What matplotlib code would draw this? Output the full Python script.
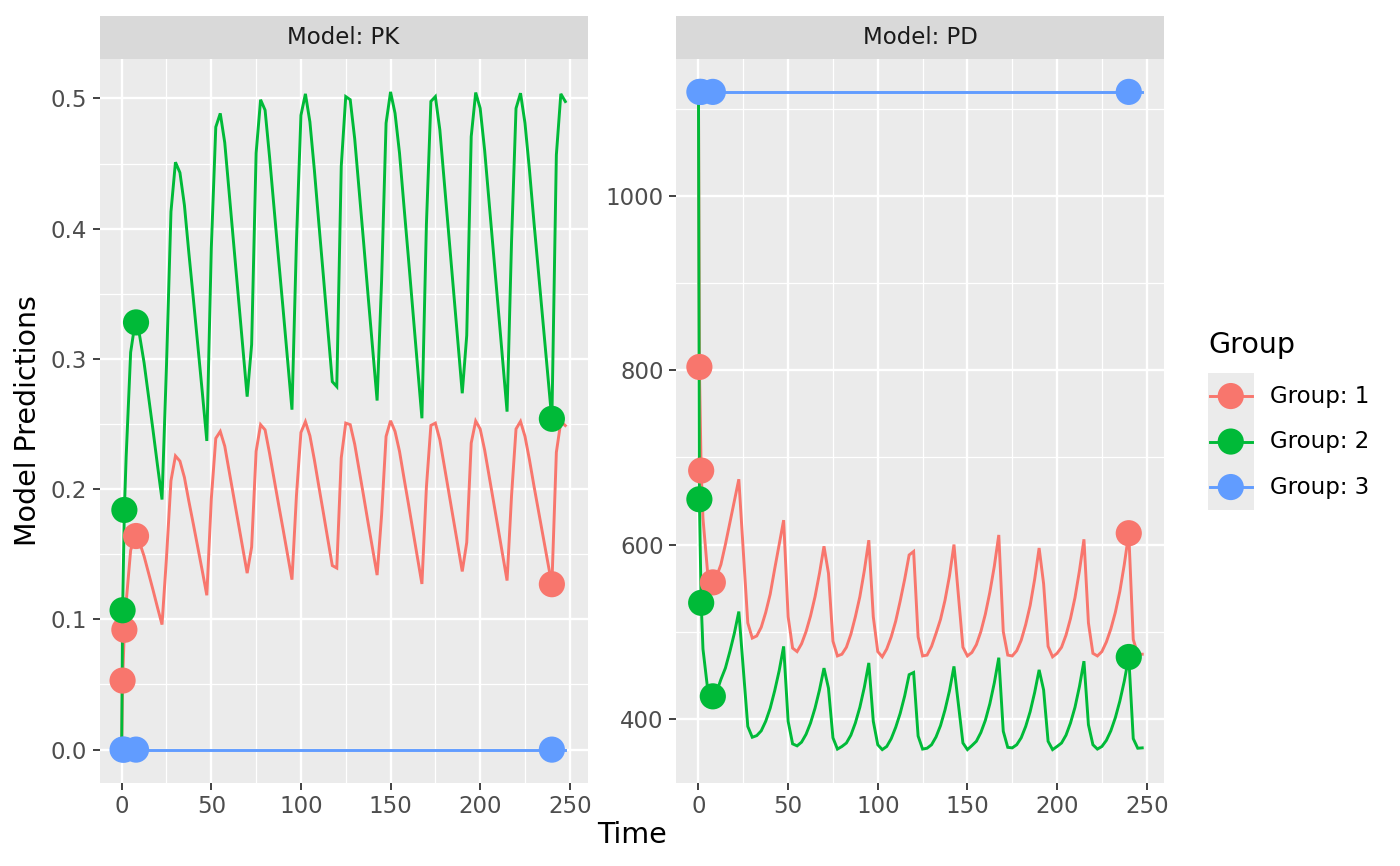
import matplotlib
matplotlib.use("Agg")
import matplotlib.pyplot as plt
from matplotlib.patches import Rectangle
from matplotlib.lines import Line2D
from matplotlib.ticker import FixedLocator, FuncFormatter

# ---------------- data ----------------
times = [0, 0.5, 1.5, 2.5, 5, 7.5, 8, 10, 12.5, 15, 17.5, 20, 22.5,
         25, 27.5, 30, 32.5, 35, 37.5, 40, 42.5, 45, 47.5,
         50, 52.5, 55, 57.5, 60, 62.5, 65, 67.5, 70,
         72.5, 75, 77.5, 80, 82.5, 85, 87.5, 90, 92.5, 95,
         97.5, 100, 102.5, 105, 107.5, 110, 112.5, 115, 117.5, 120,
         122.5, 125, 127.5, 130, 132.5, 135, 137.5, 140, 142.5,
         145, 147.5, 150, 152.5, 155, 157.5, 160, 162.5, 165, 167.5,
         170, 172.5, 175, 177.5, 180, 182.5, 185, 187.5, 190,
         192.5, 195, 197.5, 200, 202.5, 205, 207.5, 210, 212.5, 215,
         217.5, 220, 222.5, 225, 227.5, 230, 232.5, 235, 237.5, 240,
         242.5, 245, 247.5]

pk_group1 = [0, 0.053, 0.092, 0.113, 0.153, 0.164, 0.164, 0.159, 0.1485, 0.1355, 0.1225, 0.109, 0.096,
             0.1475, 0.2065, 0.2255, 0.2215, 0.209, 0.1905, 0.173, 0.155, 0.137, 0.1185,
             0.1925, 0.239, 0.2443, 0.233, 0.2135, 0.194, 0.1745, 0.155, 0.1355,
             0.1555, 0.229, 0.2495, 0.2455, 0.2275, 0.208, 0.1885, 0.1695, 0.150, 0.1305,
             0.195, 0.2435, 0.2518, 0.241, 0.2225, 0.202, 0.182, 0.1615, 0.1413, 0.1394,
             0.224, 0.2507, 0.2495, 0.2345, 0.2145, 0.1945, 0.174, 0.154, 0.134,
             0.180, 0.2405, 0.2525, 0.2443, 0.229, 0.2085, 0.1885, 0.168, 0.1475, 0.1272,
             0.2015, 0.2489, 0.2507, 0.2379, 0.2177, 0.1975, 0.1773, 0.1571, 0.1368,
             0.159, 0.2354, 0.2523, 0.2462, 0.230, 0.210, 0.190, 0.170, 0.1498, 0.1298,
             0.195, 0.2462, 0.252, 0.2405, 0.2225, 0.2025, 0.1835, 0.1645, 0.1455, 0.1265,
             0.2283, 0.2518, 0.2488]

pk_group2 = [0, 0.107, 0.184, 0.225, 0.305, 0.328, 0.328, 0.318, 0.297, 0.271, 0.245, 0.218, 0.192,
             0.295, 0.413, 0.451, 0.443, 0.418, 0.381, 0.346, 0.310, 0.274, 0.237,
             0.385, 0.478, 0.4885, 0.466, 0.427, 0.388, 0.349, 0.310, 0.271,
             0.311, 0.458, 0.499, 0.491, 0.455, 0.416, 0.377, 0.339, 0.300, 0.261,
             0.390, 0.487, 0.5035, 0.482, 0.445, 0.404, 0.364, 0.323, 0.2825, 0.2787,
             0.448, 0.5014, 0.499, 0.469, 0.429, 0.389, 0.348, 0.308, 0.268,
             0.360, 0.481, 0.505, 0.4886, 0.458, 0.417, 0.377, 0.336, 0.295, 0.2544,
             0.403, 0.4977, 0.5014, 0.4758, 0.4354, 0.395, 0.3546, 0.3142, 0.2736,
             0.318, 0.4707, 0.5045, 0.4924, 0.460, 0.420, 0.380, 0.340, 0.2996, 0.2595,
             0.390, 0.4924, 0.504, 0.481, 0.445, 0.405, 0.367, 0.329, 0.291, 0.253,
             0.4566, 0.5035, 0.4976]

pd_group1 = [1120, 804, 685, 630, 570, 557, 556.5, 563, 577, 600, 625, 650, 675,
             592, 510, 492.5, 495, 505, 522, 543, 572, 600, 628,
             517, 481, 477, 486, 500, 518, 540, 567, 598,
             567, 489, 472, 474, 482, 497, 517, 540, 570, 605,
             517, 477, 471, 480, 494, 512, 535, 560, 588, 592,
             494, 472, 473, 483, 498, 514, 536, 564, 600,
             541, 482, 472, 476, 485, 500, 520, 545, 575, 611,
             500, 473, 472, 478, 490, 508, 530, 560, 596,
             555, 483, 471, 475, 482, 496, 515, 539, 570, 606,
             510, 475, 472, 477, 488, 503, 522, 546, 577, 613,
             491, 474, 474]

pd_group2 = [1120, 652, 533, 480, 436, 426, 425.6, 430, 445, 458, 477, 498, 523,
             457, 391, 378.6, 380.5, 386, 397, 412, 432, 455, 483,
             397, 371, 368.7, 373, 382, 395, 412, 433, 458,
             435, 378, 365, 368, 372, 381, 395, 413, 436, 464,
             397, 370, 364.4, 368, 377, 390, 406, 426, 450.5, 453,
             380, 365, 366, 370, 379, 392, 410, 432, 460,
             416, 372, 364.4, 369, 374, 384, 398, 417, 441, 470,
             385.5, 367, 366.4, 370, 378, 391, 408, 430, 456,
             433, 374, 364.4, 368, 372, 381, 395, 413, 437, 466,
             393, 370, 365, 368, 375, 386, 401, 420, 443, 471,
             377, 366, 366.4]

times_group3 = [0, 247.5]
pk_group3 = [0, 0]
pd_group3 = [1120, 1120]

obs_times = [0.5, 1.5, 8, 240]
obs_pk_group1 = [0.053, 0.092, 0.164, 0.127]
obs_pk_group2 = [0.107, 0.184, 0.328, 0.254]
obs_pk_group3 = [0, 0, 0, 0]
obs_pd_group1 = [804, 685, 556.5, 613]
obs_pd_group2 = [652, 533, 425.6, 470.8]
obs_pd_group3 = [1120, 1120, 1120, 1120]

groups = ["Group: 1", "Group: 2", "Group: 3"]
colors = ["#F8766D", "#00BA38", "#619CFF"]
panel_titles = ["Model: PK", "Model: PD"]
x_ticks = [0, 50, 100, 150, 200, 250]
x_minor = [25, 75, 125, 175, 225]
pk_yticks = [0.0, 0.1, 0.2, 0.3, 0.4, 0.5]
pk_yminor = [0.05, 0.15, 0.25, 0.35, 0.45]
pd_yticks = [400, 600, 800, 1000]
pd_yminor = [500, 700, 900, 1100]

# ---------------- layout ----------------
W, H = 1400, 866
fig = plt.figure(figsize=(W / 100, H / 100), dpi=100)
fig.patch.set_facecolor("white")


def rect(x0, y0, x1, y1):
    return [x0 / W, 1 - y1 / H, (x1 - x0) / W, (y1 - y0) / H]


TICK_FS = 16.5
TITLE_FS = 20.5
LW = 2.1
MS = 355

panel_boxes = [(99.5, 59, 587.5, 782.5), (676.3, 59, 1164.4, 782.5)]

series = [
    dict(
        lines=[(times, pk_group1), (times, pk_group2), (times_group3, pk_group3)],
        obs=[obs_pk_group1, obs_pk_group2, obs_pk_group3],
        yt=pk_yticks, ym=pk_yminor, fmt=lambda v, p: f"{v:.1f}",
    ),
    dict(
        lines=[(times, pd_group1), (times, pd_group2), (times_group3, pd_group3)],
        obs=[obs_pd_group1, obs_pd_group2, obs_pd_group3],
        yt=pd_yticks, ym=pd_yminor, fmt=lambda v, p: f"{v:.0f}",
    ),
]

for box, s, title in zip(panel_boxes, series, panel_titles):
    ax = fig.add_axes(rect(*box))
    ax.set_facecolor("#EBEBEB")
    for sp in ax.spines.values():
        sp.set_visible(False)
    ax.set_axisbelow(True)
    for (tx, ty), c in zip(s["lines"], colors):
        ax.plot(tx, ty, color=c, lw=LW, solid_joinstyle="miter", zorder=2)
    for oy, c in zip(s["obs"], colors):
        ax.scatter(obs_times, oy, s=MS, color=c, edgecolors="none", zorder=3)
    ax.margins(x=0.05, y=0.05)
    ax.xaxis.set_major_locator(FixedLocator(x_ticks))
    ax.xaxis.set_minor_locator(FixedLocator(x_minor))
    ax.yaxis.set_major_locator(FixedLocator(s["yt"]))
    ax.yaxis.set_minor_locator(FixedLocator(s["ym"]))
    ax.yaxis.set_major_formatter(FuncFormatter(s["fmt"]))
    ax.grid(which="major", color="white", lw=1.7)
    ax.grid(which="minor", color="white", lw=0.9)
    ax.tick_params(which="major", length=5.2, width=1.3, color="#333333",
                   labelsize=TICK_FS, labelcolor="#4D4D4D", pad=4.0)
    ax.tick_params(which="minor", length=0)

    # strip
    sx0, _, sx1, _ = box
    sax = fig.add_axes(rect(sx0, 16, sx1, 59))
    sax.set_facecolor("#D9D9D9")
    sax.set_xticks([])
    sax.set_yticks([])
    for sp in sax.spines.values():
        sp.set_visible(False)
    sax.text(0.5, 0.5, title, ha="center", va="center", fontsize=TICK_FS,
             color="#1A1A1A", transform=sax.transAxes)

# axis titles
fig.text(632 / W, 1 - 835 / H, "Time", ha="center", va="center",
         fontsize=TITLE_FS, color="black")
fig.text(28 / W, 1 - 421 / H, "Model Predictions", ha="center", va="center",
         rotation=90, fontsize=TITLE_FS, color="black")

# legend
ov = fig.add_axes([0, 0, 1, 1])
ov.set_xlim(0, W)
ov.set_ylim(H, 0)
ov.axis("off")
ov.text(1208, 345, "Group", ha="left", va="center", fontsize=TITLE_FS, color="black")
key_x0, key_w, key_h, key_y0 = 1208, 45.5, 45.5, 373.3
ov.add_patch(Rectangle((key_x0, key_y0), key_w, key_h * len(groups),
                       facecolor="#EBEBEB", edgecolor="none"))
for i, (g, c) in enumerate(zip(groups, colors)):
    yc = key_y0 + key_h * (i + 0.5)
    ov.add_line(Line2D([key_x0 + 2, key_x0 + key_w - 2], [yc, yc], color=c, lw=LW))
    ov.scatter([key_x0 + key_w / 2], [yc], s=MS, color=c, edgecolors="none", zorder=3)
    ov.text(1270, yc, g, ha="left", va="center", fontsize=TICK_FS, color="black")

fig.savefig("out.png", dpi=100)
